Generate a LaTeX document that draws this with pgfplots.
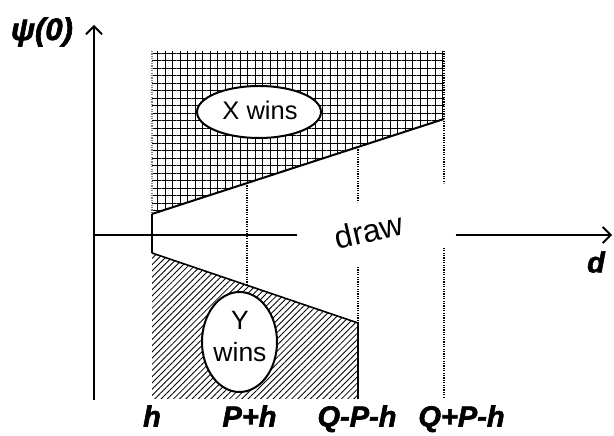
\documentclass[border=0pt]{standalone}
\usepackage{pgfplots}
\pgfplotsset{compat=1.18}
\usepackage{fontspec}
\setmainfont{Liberation Sans}
\newfontfamily\heavy[FakeBold=2]{Liberation Sans Bold Italic}
\usetikzlibrary{patterns.meta,arrows.meta}

\begin{document}
\begin{tikzpicture}
\begin{axis}[
  width=614bp, height=430bp, scale only axis,
  xmin=0, xmax=614, ymin=0, ymax=430,
  hide axis, clip=false]
\path (axis cs:0,0) rectangle (axis cs:614,430);

% region where X wins (above the upper boundary)
\addplot[draw=none, pattern={Hatch[angle=0,distance=7.5bp,line width=0.95bp]}]
  coordinates {(152,216) (444,311) (444,379) (152,379)};
% region where Y wins (below the lower boundary)
\addplot[draw=none, pattern={Lines[angle=45,distance=4.4bp,line width=0.85bp]}]
  coordinates {(152,177) (358,107) (358,31) (152,31)};

% axes
\addplot[line width=2bp, -{Straight Barb[length=8bp,width=16bp,line width=1.8bp]}]
  coordinates {(94,30) (94,405)};
\addplot[line width=2bp, -{Straight Barb[length=8bp,width=16bp,line width=1.8bp]}]
  coordinates {(94,195) (612,195)};

% dotted guides
\addplot[gray, line width=1.2bp, dash pattern=on 1.2bp off 1.2bp]
  coordinates {(152,379) (152,216)};
\addplot[line width=1.2bp, dash pattern=on 1.2bp off 1.2bp]
  coordinates {(247,247) (247,145)};
\addplot[line width=1.2bp, dash pattern=on 1.2bp off 1.2bp]
  coordinates {(358,283) (358,107)};
\addplot[line width=1.3bp, dash pattern=on 1.2bp off 1.2bp]
  coordinates {(444,379) (444,32)};

% boundaries
\addplot[line width=1.6bp] coordinates {(152,216) (152,177)};
\addplot[line width=2bp] coordinates {(152,216) (444,311)};
\addplot[line width=1.6bp] coordinates {(152,177) (358,107)};
\addplot[line width=1.2bp] coordinates {(358,107) (358,31)};

% draw label with its white backing
\node[fill=white, rotate=12.5, minimum width=155bp, minimum height=63bp, inner sep=0pt]
  at (axis cs:375.5,199.4) {};
\node[rotate=13, font=\fontsize{32bp}{36bp}\selectfont] at (axis cs:369,199) {draw};

% outcome labels
\draw[fill=white, line width=2bp] (axis cs:259,318) ellipse [x radius=62bp, y radius=26bp];
\node[font=\fontsize{25.5bp}{30bp}\selectfont] at (axis cs:260,320) {X wins};
\draw[fill=white, line width=2bp] (axis cs:239.5,88) ellipse [x radius=37.5bp, y radius=50bp];
\node[font=\fontsize{26.5bp}{32bp}\selectfont, align=center] at (axis cs:240,93) {Y\\wins};

% axis labels
\node[font=\fontsize{31bp}{34bp}\selectfont\heavy] at (axis cs:42,398) {ψ(0)};
\node[font=\fontsize{29bp}{34bp}\selectfont\heavy] at (axis cs:596,168) {d};
\node[anchor=base, font=\fontsize{29bp}{34bp}\selectfont\heavy] at (axis cs:152,3.5) {h};
\node[anchor=base, font=\fontsize{29bp}{34bp}\selectfont\heavy] at (axis cs:249.5,3.5) {P+h};
\node[anchor=base, font=\fontsize{29bp}{34bp}\selectfont\heavy] at (axis cs:357,3.5) {Q-P-h};
\node[anchor=base, font=\fontsize{29bp}{34bp}\selectfont\heavy] at (axis cs:461.5,3.5) {Q+P-h};
\end{axis}
\end{tikzpicture}
\end{document}
